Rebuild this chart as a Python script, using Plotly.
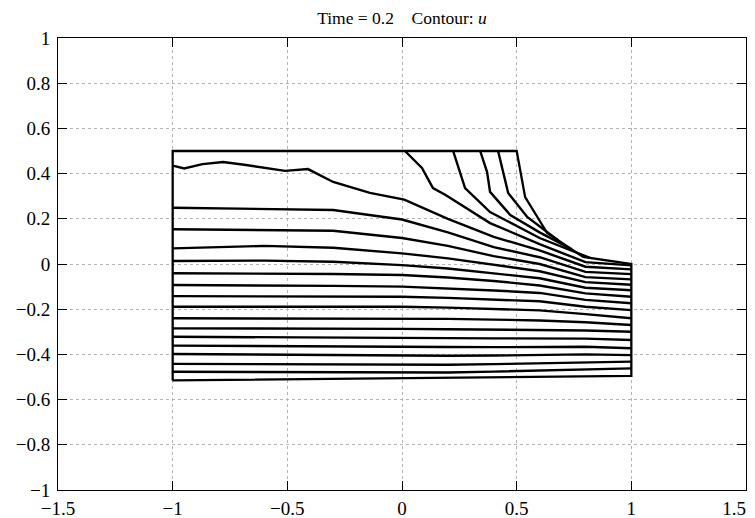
import plotly.graph_objects as go

# ---------------- data ----------------
title_text = "Time = 0.2&nbsp;&nbsp;&nbsp;&nbsp;Contour: <i>u</i>"

x_tick_vals = [-1.5, -1, -0.5, 0, 0.5, 1, 1.5]
x_tick_text = ["\u22121.5", "\u22121", "\u22120.5", "0", "0.5", "1",
               "1.5\u00a0\u00a0\u00a0\u00a0\u00a0"]
y_tick_vals = [-1, -0.8, -0.6, -0.4, -0.2, 0, 0.2, 0.4, 0.6, 0.8, 1]
y_tick_text = ["\u22121", "\u22120.8", "\u22120.6", "\u22120.4", "\u22120.2", "0",
               "0.2", "0.4", "0.6", "0.8", "1"]

# domain boundary
boundary_x = [-1, -1, 0.5, 0.537, 0.633, 0.79, 1.0, 1.0, -1]
boundary_y = [-0.515, 0.5, 0.5, 0.296, 0.137, 0.031, 0.0, -0.495, -0.515]

# contours that start on the top edge
contour_d_x = [0.419, 0.463, 0.546, 0.60, 0.68]
contour_d_y = [0.50, 0.314, 0.208, 0.165, 0.105]
contour_c_x = [0.341, 0.371, 0.384, 0.472, 0.60, 0.74]
contour_c_y = [0.50, 0.407, 0.319, 0.217, 0.140, 0.065]
contour_b_x = [0.223, 0.253, 0.275, 0.384, 0.60, 0.82]
contour_b_y = [0.50, 0.403, 0.336, 0.230, 0.115, 0.027]
contour_a_x = [0.013, 0.087, 0.135, 0.19, 0.384, 0.60, 0.80, 1.0]
contour_a_y = [0.50, 0.425, 0.336, 0.305, 0.181, 0.088, 0.008, -0.006]

# first contour from the left edge (irregular)
contour_1_x = [-1, -0.95, -0.87, -0.78, -0.68, -0.51, -0.41, -0.30, -0.14, 0.01,
               0.20, 0.40, 0.60, 0.80, 1.0]
contour_1_y = [0.435, 0.423, 0.442, 0.451, 0.438, 0.412, 0.420, 0.363, 0.315, 0.285,
               0.200, 0.120, 0.060, -0.012, -0.024]

# remaining contours, sampled on a common x grid
x_grid = [-1, -0.6, -0.3, 0, 0.2, 0.4, 0.6, 0.8, 1.0]
contour_2_y = [0.249, 0.245, 0.239, 0.197, 0.140, 0.075, 0.030, -0.035, -0.045]
contour_3_y = [0.154, 0.150, 0.147, 0.115, 0.080, 0.035, 0.000, -0.058, -0.068]
contour_4_y = [0.069, 0.080, 0.072, 0.047, 0.025, -0.005, -0.032, -0.080, -0.092]
contour_5_y = [0.013, 0.015, 0.010, -0.005, -0.020, -0.040, -0.063, -0.105, -0.116]
contour_6_y = [-0.041, -0.041, -0.044, -0.049, -0.060, -0.075, -0.095, -0.130, -0.145]
contour_7_y = [-0.093, -0.094, -0.097, -0.100, -0.108, -0.117, -0.128, -0.159, -0.174]
contour_8_y = [-0.142, -0.142, -0.143, -0.145, -0.150, -0.157, -0.165, -0.189, -0.204]
contour_9_y = [-0.189, -0.189, -0.189, -0.189, -0.193, -0.198, -0.205, -0.222, -0.240]
contour_10_y = [-0.240, -0.240, -0.240, -0.240, -0.243, -0.246, -0.250, -0.258, -0.270]
contour_11_y = [-0.285, -0.285, -0.286, -0.287, -0.289, -0.291, -0.292, -0.294, -0.300]
contour_12_y = [-0.322, -0.323, -0.324, -0.326, -0.328, -0.329, -0.330, -0.330, -0.336]
contour_13_y = [-0.361, -0.362, -0.364, -0.366, -0.367, -0.368, -0.368, -0.366, -0.373]
contour_14_y = [-0.398, -0.401, -0.404, -0.407, -0.406, -0.405, -0.404, -0.400, -0.403]
contour_15_y = [-0.442, -0.443, -0.445, -0.447, -0.446, -0.443, -0.440, -0.434, -0.432]
contour_16_y = [-0.477, -0.478, -0.480, -0.482, -0.480, -0.476, -0.472, -0.466, -0.462]

grid_contours = [contour_2_y, contour_3_y, contour_4_y, contour_5_y, contour_6_y,
                 contour_7_y, contour_8_y, contour_9_y, contour_10_y, contour_11_y,
                 contour_12_y, contour_13_y, contour_14_y, contour_15_y, contour_16_y]

# ---------------- figure ----------------
fig = go.Figure()
LINE = dict(color="black", width=2.4)

fig.add_trace(go.Scatter(x=boundary_x, y=boundary_y, mode="lines",
                         line=dict(color="black", width=2.3), hoverinfo="skip"))
for xs, ys in [(contour_d_x, contour_d_y), (contour_c_x, contour_c_y),
               (contour_b_x, contour_b_y), (contour_a_x, contour_a_y),
               (contour_1_x, contour_1_y)]:
    fig.add_trace(go.Scatter(x=xs, y=ys, mode="lines", line=LINE, hoverinfo="skip"))
for ys in grid_contours:
    fig.add_trace(go.Scatter(x=x_grid, y=ys, mode="lines", line=LINE, hoverinfo="skip"))

SERIF = "Liberation Serif, Times New Roman, serif"
axis_common = dict(
    automargin=False,
    showline=True, linecolor="black", linewidth=1, mirror="ticks",
    ticks="inside", ticklen=9, tickcolor="black", tickwidth=1,
    showgrid=True, gridcolor="#b4b4b4", griddash="dot", gridwidth=1,
    zeroline=False,
    ticklabeloverflow="allow",
    tickfont=dict(family=SERIF, size=19, color="black"),
)

# the page body adds an 8 px offset; the figure size/margins compensate for it
fig.update_layout(
    template="none",
    width=760, height=510,
    margin=dict(l=50, r=22, t=30, b=28),
    paper_bgcolor="white", plot_bgcolor="white",
    showlegend=False,
    title=dict(text=title_text, x=394 / 760, xanchor="center", y=0.980, yanchor="middle",
               font=dict(family=SERIF, size=17.5, color="black")),
    xaxis=dict(range=[-1.5, 1.5], tickvals=x_tick_vals, ticktext=x_tick_text,
               ticklabelstandoff=1, **axis_common),
    yaxis=dict(range=[-1, 1], tickvals=y_tick_vals, ticktext=y_tick_text,
               ticklabelstandoff=3, **axis_common),
)

fig.write_html("out.html")
